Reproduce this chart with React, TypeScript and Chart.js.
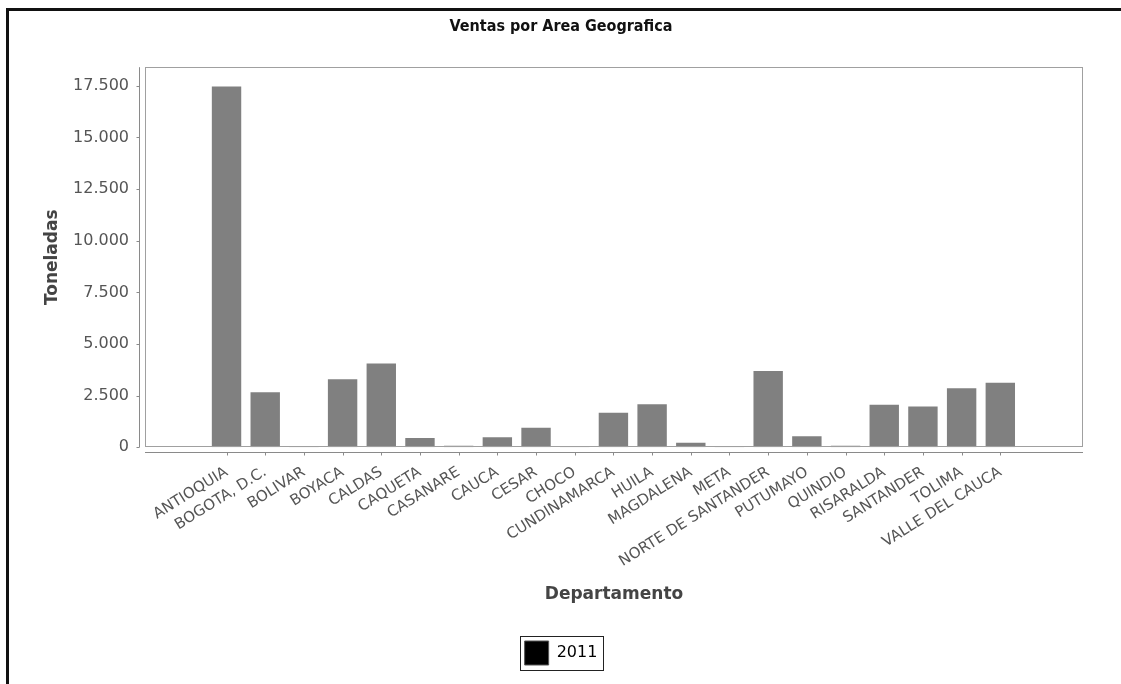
import React, { useEffect, useRef } from 'react';
import { Chart, registerables } from 'chart.js';

Chart.register(...registerables);

const chartTitle = 'Ventas por Area Geografica';
const xAxisTitle = 'Departamento';
const yAxisTitle = 'Toneladas';
const seriesName = '2011';

const categories = [
  'ANTIOQUIA',
  'BOGOTA, D.C.',
  'BOLIVAR',
  'BOYACA',
  'CALDAS',
  'CAQUETA',
  'CASANARE',
  'CAUCA',
  'CESAR',
  'CHOCO',
  'CUNDINAMARCA',
  'HUILA',
  'MAGDALENA',
  'META',
  'NORTE DE SANTANDER',
  'PUTUMAYO',
  'QUINDIO',
  'RISARALDA',
  'SANTANDER',
  'TOLIMA',
  'VALLE DEL CAUCA',
];

const values2011 = [
  17470, 2664, 30, 3290, 4060, 448, 80, 482, 944, 12, 1667, 2086, 222, 60, 3690, 530, 80, 2054, 1977, 2859, 3130,
];

const yTickValues = [0, 2500, 5000, 7500, 10000, 12500, 15000, 17500];
const yMin = 0;
const yMax = 18400;

const fmt = (v: number) => String(v).replace(/\B(?=(\d{3})+(?!\d))/g, '.');

const framePlugin = {
  id: 'jfreeFrame',
  afterDraw(chart: any) {
    const { ctx, chartArea: a, scales } = chart;
    ctx.save();
    ctx.lineWidth = 1;
    // plot border
    ctx.strokeStyle = '#a0a0a0';
    ctx.strokeRect(Math.round(a.left) + 0.5, Math.round(a.top) + 0.5, Math.round(a.width) - 1, Math.round(a.height) - 1);
    // y axis line (offset from plot)
    ctx.strokeStyle = '#8a8a8a';
    const ax = Math.round(a.left - 6) + 0.5;
    ctx.beginPath();
    ctx.moveTo(ax, a.top);
    ctx.lineTo(ax, a.bottom);
    scales.y.ticks.forEach((t: any) => {
      const y = Math.round(scales.y.getPixelForValue(t.value)) + 0.5;
      ctx.moveTo(ax - 3, y);
      ctx.lineTo(ax, y);
    });
    // x axis line (offset from plot)
    const ay = Math.round(a.bottom + 5) + 0.5;
    ctx.moveTo(a.left, ay);
    ctx.lineTo(a.right, ay);
    scales.x.ticks.forEach((t: any) => {
      const x = Math.round(scales.x.getPixelForValue(t.value)) + 0.5;
      ctx.moveTo(x, ay);
      ctx.lineTo(x, ay + 3);
    });
    ctx.stroke();
    // legend border
    const hb = chart.legend && chart.legend.legendHitBoxes && chart.legend.legendHitBoxes[0];
    if (hb) {
      ctx.strokeStyle = '#222';
      ctx.strokeRect(Math.round(hb.left - 5) + 0.5, Math.round(hb.top - 5) + 0.5, Math.round(hb.width + 10), Math.round(hb.height + 10));
    }
    ctx.restore();
  },
};

export default function App() {
  const ref = useRef<HTMLCanvasElement | null>(null);

  useEffect(() => {
    if (!ref.current) return;
    const chart = new Chart(ref.current, {
      type: 'bar',
      data: {
        datasets: [
          {
            label: seriesName,
            data: values2011.map((v, i) => ({ x: i, y: v })),
            backgroundColor: '#808080',
            borderWidth: 0,
            barPercentage: 0.76,
            categoryPercentage: 1,
          },
        ],
      },
      options: {
        animation: false,
        responsive: false,
        devicePixelRatio: 1,
        layout: { padding: { left: 30, right: 38, top: 0, bottom: 9 } },
        plugins: {
          title: {
            display: true,
            text: chartTitle,
            color: '#111',
            font: { family: '"DejaVu Sans Condensed", "Liberation Sans Narrow", "DejaVu Sans"', weight: 'bold', size: 16 },
            padding: { top: 6, bottom: 31 },
          },
          legend: {
            position: 'bottom',
            labels: {
              boxWidth: 24,
              boxHeight: 24,
              padding: 8,
              color: '#444',
              font: { family: '"DejaVu Sans"', size: 16 },
              generateLabels: () => [
                { text: seriesName, fillStyle: '#000', strokeStyle: '#555', lineWidth: 1, hidden: false, datasetIndex: 0 },
              ],
            },
          },
          tooltip: { enabled: false },
        },
        scales: {
          x: {
            type: 'linear',
            min: -1.53,
            max: 21.56,
            grid: { display: false, drawTicks: false },
            border: { display: false },
            afterBuildTicks: (axis: any) => {
              axis.ticks = categories.map((_, i) => ({ value: i }));
            },
            afterFit: (s: any) => {
              s.height = 185.7;
            },
            ticks: {
              autoSkip: false,
              minRotation: 32,
              maxRotation: 32,
              padding: 16,
              color: '#555',
              font: { family: '"DejaVu Sans"', size: 15 },
              callback: (v: any) => categories[v] ?? '',
            },
            title: {
              display: true,
              text: xAxisTitle,
              color: '#444',
              font: { family: '"DejaVu Sans"', weight: 'bold', size: 17 },
              padding: { top: 0, bottom: 28 },
            },
          },
          y: {
            min: yMin,
            max: yMax,
            grid: { display: false, drawTicks: false },
            border: { display: false },
            afterBuildTicks: (axis: any) => {
              axis.ticks = yTickValues.map((v) => ({ value: v }));
            },
            afterFit: (s: any) => {
              s.width = 106;
            },
            ticks: {
              padding: 16,
              color: '#555',
              font: { family: '"DejaVu Sans"', size: 16 },
              callback: (v: any) => fmt(Number(v)),
            },
            title: {
              display: true,
              text: yAxisTitle,
              color: '#444',
              font: { family: '"DejaVu Sans"', weight: 'bold', size: 17 },
              padding: { top: 3, bottom: 10 },
            },
          },
        },
      } as any,
      plugins: [framePlugin],
    });
    return () => chart.destroy();
  }, []);

  return (
    <div
      style={{
        position: 'fixed',
        left: 6,
        top: 8,
        width: 1115,
        height: 676,
        boxSizing: 'border-box',
        borderLeft: '3px solid #111',
        borderTop: '3px solid #111',
        background: '#fff',
      }}
    >
      <canvas ref={ref} width={1112} height={673} style={{ display: 'block', width: 1112, height: 673 }} />
    </div>
  );
}
